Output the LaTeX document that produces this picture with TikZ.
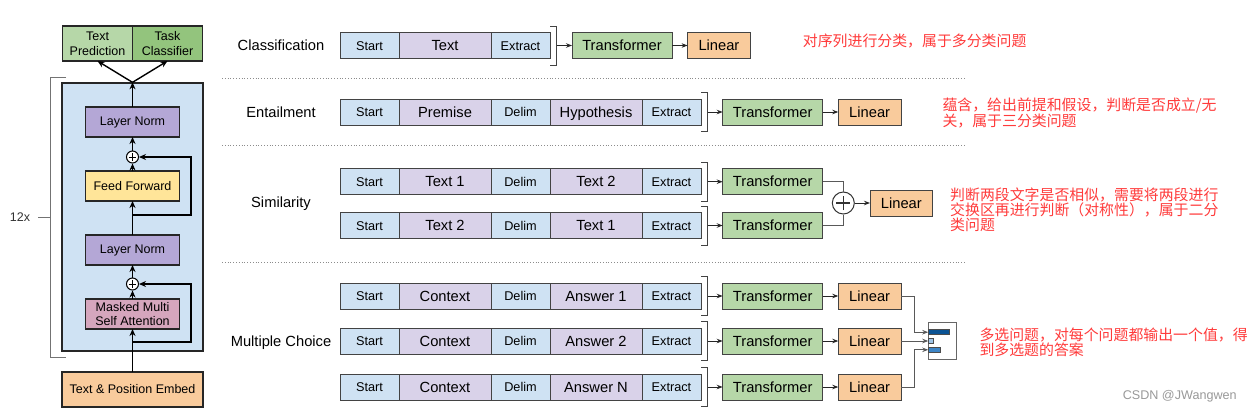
\documentclass[tikz,border=0pt]{standalone}
\usepackage{fontspec}
\setmainfont{Liberation Sans}
\newfontfamily\cjkfont{Noto Sans CJK SC}
\usetikzlibrary{arrows.meta, positioning, shapes.geometric}
\definecolor{tokblue}{HTML}{CFE2F3}
\definecolor{segpurple}{HTML}{D9D2E9}
\definecolor{transgreen}{HTML}{B6D7A8}
\definecolor{linorange}{HTML}{F9CB9C}
\definecolor{taskgreen}{HTML}{93C47D}
\definecolor{normpurple}{HTML}{B4A7D6}
\definecolor{ffyellow}{HTML}{FFE599}
\definecolor{attnpink}{HTML}{D5A6BD}
\definecolor{edgegray}{HTML}{434343}
\definecolor{notered}{HTML}{FF3B3B}
\definecolor{bardark}{HTML}{0B5394}
\definecolor{barlight}{HTML}{9FC5E8}
\definecolor{barmid}{HTML}{3D85C6}
\tikzset{
    cell/.style={rectangle, draw=edgegray, line width=0.9pt, outer sep=0pt, inner sep=0pt, minimum height=26pt, anchor=west},
    tok/.style={cell, fill=tokblue, minimum width=59pt, text height=9.1pt, text depth=0pt, font=\fontsize{12.7}{14}\selectfont},
    seg/.style={cell, fill=segpurple, minimum width=92pt, text height=10.5pt, text depth=0pt, font=\fontsize{14.7}{17}\selectfont},
    trans/.style={cell, fill=transgreen, minimum width=100pt, text height=10.5pt, text depth=0pt, font=\fontsize{14.7}{17}\selectfont},
    linear/.style={cell, fill=linorange, minimum width=62.7pt, text height=10.5pt, text depth=0pt, font=\fontsize{14.7}{17}\selectfont},
    taskname/.style={inner sep=0pt, text height=10.5pt, text depth=0pt, font=\fontsize{14.7}{17}\selectfont},
    layer/.style={rectangle, draw=black!85, line width=1.2pt, outer sep=0pt, minimum width=94pt, minimum height=30pt, inner sep=1pt, align=center, font=\fontsize{12.5}{14.5}\selectfont},
    outhead/.style={layer, minimum width=70pt, minimum height=35pt, font=\fontsize{12.5}{15}\selectfont},
    stack/.style={rectangle, draw=black!85, line width=1.3pt, fill=tokblue, minimum width=141pt, minimum height=268pt},
    addop/.style={circle, draw=black, line width=1pt, fill=white, inner sep=0pt, minimum size=12pt,
        path picture={\draw[line width=1pt] (path picture bounding box.center) +(-3.8pt,0) -- +(3.8pt,0) +(0,-3.8pt) -- +(0,3.8pt);}},
    bigadd/.style={circle, draw=black!80, line width=1pt, fill=white, inner sep=0pt, minimum size=22pt,
        path picture={\draw[line width=1.3pt] (path picture bounding box.center) +(-7pt,0) -- +(7pt,0) +(0,-7pt) -- +(0,7pt);}},
    flow/.style={-{Stealth[length=7pt,width=6pt]}, line width=1.4pt},
    tip/.style={->, draw=black!85, line width=1pt},
    link/.style={draw=black!65, line width=1pt},
    brk/.style={draw=edgegray, line width=0.9pt},
    repbrk/.style={draw=black!55, line width=1pt},
    sep/.style={draw=black!45, dotted, line width=0.8pt},
    barbox/.style={rectangle, draw=black!60, line width=0.9pt, fill=white, minimum width=27.3pt, minimum height=37.4pt, inner sep=0pt},
    bar/.style={draw=black!70, line width=0.6pt},
    note/.style={anchor=west, align=left, inner sep=0pt, text=notered, font=\cjkfont\fontsize{14.9}{15}\selectfont},
    wmark/.style={inner sep=0pt, text=black!40, font=\fontsize{12.6}{14}\selectfont}
}
\begin{document}
\begin{tikzpicture}[x=1pt, y=-1pt, >={Stealth[length=6pt,width=4.5pt]}]
    \fill[white] (0,0) rectangle (1252,413);
    \useasboundingbox (0,0) rectangle (1252,413);

    % Decoder stack - left side
    \node[stack] (stack) at (132.5,217) {};
    \node[outhead, fill=transgreen] (pred) at (97.5,43.5) {Text\\Prediction};
    \node[outhead, fill=taskgreen] (task) at (167.5,43.5) {Task\\Classifier};
    \node[layer, fill=normpurple] (norm1) at (132.5,122) {Layer Norm};
    \node[addop] (add1) at (132.5,157) {};
    \node[layer, fill=ffyellow] (ffwd) at (132.5,186) {Feed Forward};
    \node[layer, fill=normpurple] (norm2) at (132.5,250) {Layer Norm};
    \node[addop] (add2) at (132.5,284) {};
    \node[layer, fill=attnpink] (attn) at (132.5,314) {Masked Multi\\Self Attention};
    \node[layer, fill=linorange, minimum width=141pt, minimum height=35pt] (embed) at (132.5,389.5) {Text \& Position Embed};
    \coordinate (skip1) at (132.5,215);
    \coordinate (skip2) at (132.5,342);

    \draw[flow] (embed) -- (attn);
    \draw[flow] (attn) -- (add2);
    \draw[flow] (add2) -- (norm2);
    \draw[flow] (norm2) -- (ffwd);
    \draw[flow] (ffwd) -- (add1);
    \draw[flow] (add1) -- (norm1);
    \draw[flow] (norm1) -- (stack.north);
    \draw[flow] (stack.north) -- (pred.south);
    \draw[flow] (stack.north) -- (task.south);
    \draw[flow] (skip1) -- ++(58.5,0) |- (add1.east); % residual
    \draw[flow] (skip2) -- ++(58.5,0) |- (add2.east); % residual

    % 12x repeat bracket
    \draw[repbrk] (66,77) -- (50,77) -- (50,357) -- (66,357) (38,217) -- (50,217);
    \node[font=\fontsize{12.5}{14}\selectfont, text=black!80] (reps) at (20,217) {12x};

    % Classification
    \node[taskname] (clsname) at (281,45.5) {Classification};
    \node[tok] (c1) at (340,45.5) {Start};
    \node[seg, right=0pt of c1] (c2) {Text};
    \node[tok, right=0pt of c2] (c3) {Extract};
    \draw[brk] ([yshift=6.5pt]c3.north east) -| ([xshift=6.5pt,yshift=-6.5pt]c3.south east) -- ([yshift=-6.5pt]c3.south east);
    \node[trans] (ctr) at (572,45.5) {Transformer};
    \node[linear, right=15.6pt of ctr] (clin) {Linear};
    \draw[tip] ([xshift=6.5pt]c3.east) -- (ctr.west);
    \draw[tip] (ctr) -- (clin);
    \node[note] (clsnote) at (802.7,40.7) {对序列进行分类，属于多分类问题};

    \draw[sep] (222,78.3) -- (965,78.3);

    % Entailment
    \node[taskname] (entname) at (281,112) {Entailment};
    \node[tok] (en1) at (340,112) {Start};
    \node[seg, right=0pt of en1] (en2) {Premise};
    \node[tok, right=0pt of en2] (en3) {Delim};
    \node[seg, right=0pt of en3] (en4) {Hypothesis};
    \node[tok, right=0pt of en4] (en5) {Extract};
    \draw[brk] ([yshift=6.5pt]en5.north east) -| ([xshift=6.5pt,yshift=-6.5pt]en5.south east) -- ([yshift=-6.5pt]en5.south east);
    \node[trans] (entr) at (722.7,112) {Transformer};
    \node[linear, right=15.6pt of entr] (enlin) {Linear};
    \draw[tip] ([xshift=6.5pt]en5.east) -- (entr.west);
    \draw[tip] (entr) -- (enlin);
    \node[note] (ennote) at (942.3,113) {蕴含，给出前提和假设，判断是否成立/无\\关，属于三分类问题};

    \draw[sep] (222,145) -- (965,145);

    % Similarity
    \node[taskname] (simname) at (281,202) {Similarity};
    \node[tok] (sa1) at (340,181.7) {Start};
    \node[seg, right=0pt of sa1] (sa2) {Text 1};
    \node[tok, right=0pt of sa2] (sa3) {Delim};
    \node[seg, right=0pt of sa3] (sa4) {Text 2};
    \node[tok, right=0pt of sa4] (sa5) {Extract};
    \draw[brk] ([yshift=6.5pt]sa5.north east) -| ([xshift=6.5pt,yshift=-6.5pt]sa5.south east) -- ([yshift=-6.5pt]sa5.south east);
    \node[trans] (satr) at (722.7,181.7) {Transformer};
    \draw[tip] ([xshift=6.5pt]sa5.east) -- (satr.west);
    \node[tok] (sb1) at (340,225.5) {Start};
    \node[seg, right=0pt of sb1] (sb2) {Text 2};
    \node[tok, right=0pt of sb2] (sb3) {Delim};
    \node[seg, right=0pt of sb3] (sb4) {Text 1};
    \node[tok, right=0pt of sb4] (sb5) {Extract};
    \draw[brk] ([yshift=6.5pt]sb5.north east) -| ([xshift=6.5pt,yshift=-6.5pt]sb5.south east) -- ([yshift=-6.5pt]sb5.south east);
    \node[trans] (sbtr) at (722.7,225.5) {Transformer};
    \draw[tip] ([xshift=6.5pt]sb5.east) -- (sbtr.west);
    \node[bigadd] (sadd) at (843.3,203) {};
    \node[linear] (slin) at (870,203) {Linear};
    \draw[link] (satr.east) -| (sadd.north);
    \draw[link] (sbtr.east) -| (sadd.south);
    \draw[tip] (sadd) -- (slin);
    \node[note] (simnote) at (950,209.5) {判断两段文字是否相似，需要将两段进行\\交换区再进行判断（对称性），属于二分\\类问题};

    \draw[sep] (222,262) -- (965,262);

    % Multiple Choice
    \node[taskname] (mcname) at (281,341) {Multiple Choice};
    \node[tok] (ma1) at (340,296) {Start};
    \node[seg, right=0pt of ma1] (ma2) {Context};
    \node[tok, right=0pt of ma2] (ma3) {Delim};
    \node[seg, right=0pt of ma3] (ma4) {Answer 1};
    \node[tok, right=0pt of ma4] (ma5) {Extract};
    \draw[brk] ([yshift=6.5pt]ma5.north east) -| ([xshift=6.5pt,yshift=-6.5pt]ma5.south east) -- ([yshift=-6.5pt]ma5.south east);
    \node[trans] (matr) at (722.7,296) {Transformer};
    \node[linear, right=15.6pt of matr] (malin) {Linear};
    \draw[tip] ([xshift=6.5pt]ma5.east) -- (matr.west);
    \draw[tip] (matr) -- (malin);
    \node[tok] (mb1) at (340,341) {Start};
    \node[seg, right=0pt of mb1] (mb2) {Context};
    \node[tok, right=0pt of mb2] (mb3) {Delim};
    \node[seg, right=0pt of mb3] (mb4) {Answer 2};
    \node[tok, right=0pt of mb4] (mb5) {Extract};
    \draw[brk] ([yshift=6.5pt]mb5.north east) -| ([xshift=6.5pt,yshift=-6.5pt]mb5.south east) -- ([yshift=-6.5pt]mb5.south east);
    \node[trans] (mbtr) at (722.7,341) {Transformer};
    \node[linear, right=15.6pt of mbtr] (mblin) {Linear};
    \draw[tip] ([xshift=6.5pt]mb5.east) -- (mbtr.west);
    \draw[tip] (mbtr) -- (mblin);
    \node[tok] (mc1) at (340,387) {Start};
    \node[seg, right=0pt of mc1] (mc2) {Context};
    \node[tok, right=0pt of mc2] (mc3) {Delim};
    \node[seg, right=0pt of mc3] (mc4) {Answer N};
    \node[tok, right=0pt of mc4] (mc5) {Extract};
    \draw[brk] ([yshift=6.5pt]mc5.north east) -| ([xshift=6.5pt,yshift=-6.5pt]mc5.south east) -- ([yshift=-6.5pt]mc5.south east);
    \node[trans] (mctr) at (722.7,387) {Transformer};
    \node[linear, right=15.6pt of mctr] (mclin) {Linear};
    \draw[tip] ([xshift=6.5pt]mc5.east) -- (mctr.west);
    \draw[tip] (mctr) -- (mclin);

    % answer scores
    \node[barbox] (bars) at (942.35,341) {};
    \draw[bar, fill=bardark] ([yshift=11.3pt]bars.west) rectangle ++(20.6,5);
    \draw[bar, fill=barlight] ([yshift=2.7pt]bars.west) rectangle ++(5.3,5.4);
    \draw[bar, fill=barmid] ([yshift=-6.3pt]bars.west) rectangle ++(12,5);
    \draw[link, ->] (malin.east) -- ++(13.3,0) |- ([yshift=8.8pt]bars.west);
    \draw[link, ->] (mblin.east) -- (bars.west);
    \draw[link, ->] (mclin.east) -- ++(13.3,0) |- ([yshift=-8.8pt]bars.west);
    \node[note] (mcnote) at (979.3,342.5) {多选问题，对每个问题都输出一个值，得\\到多选题的答案};

    \node[wmark] (csdn) at (1179.7,396) {CSDN @JWangwen};
\end{tikzpicture}
\end{document}
